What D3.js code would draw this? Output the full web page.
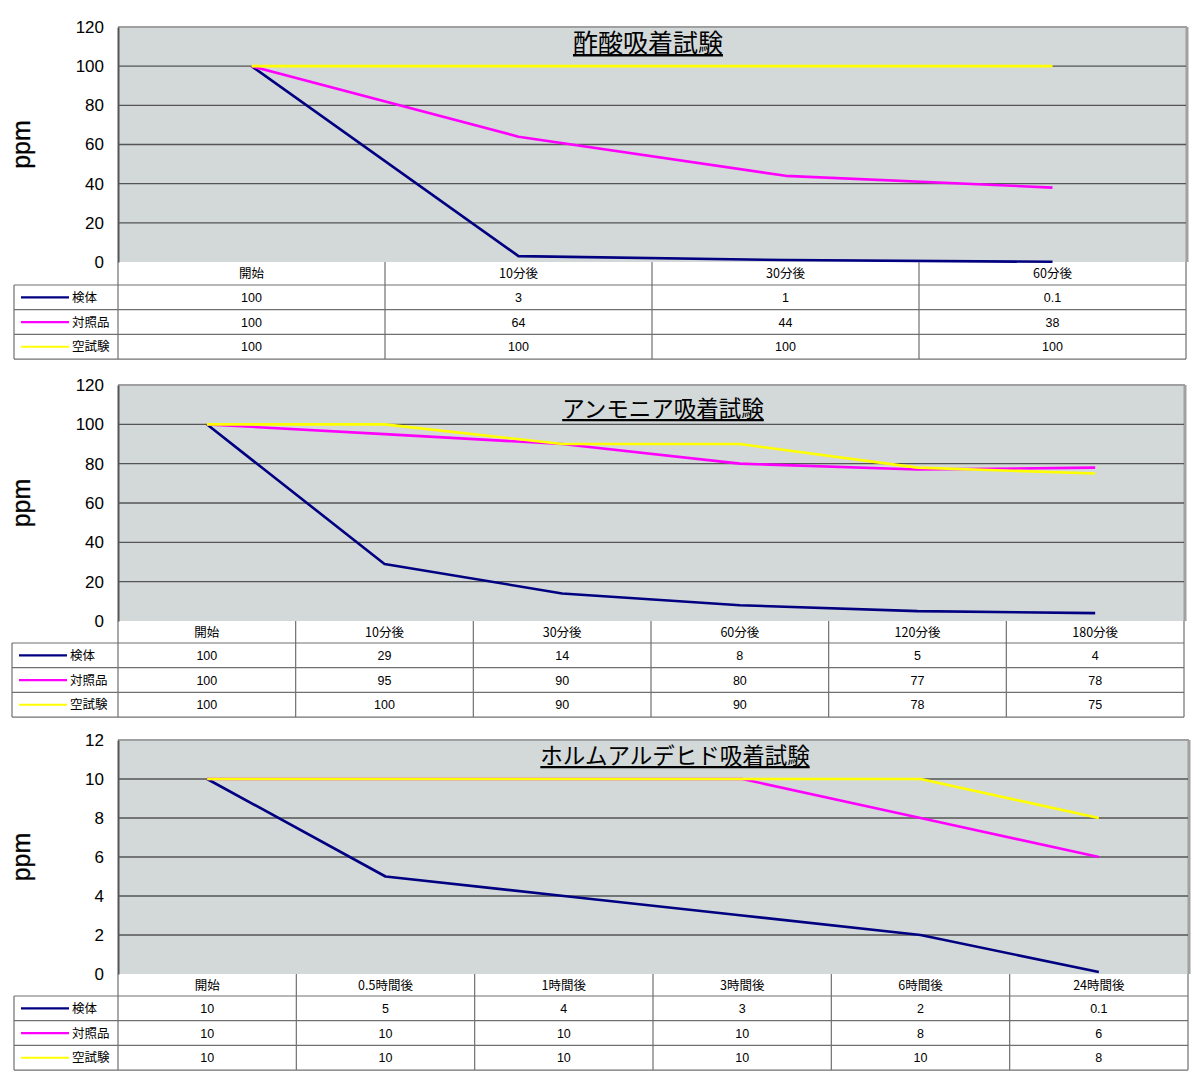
<!DOCTYPE html>
<html><head><meta charset="utf-8">
<script src="https://cdn.jsdelivr.net/npm/d3@7"></script>
<style>body{margin:0;background:#fff}svg{display:block}</style>
</head><body>
<svg id="c" width="1200" height="1080"></svg>
<script>
// ---- data ----
const seriesNames = ["検体", "対照品", "空試験"];

const aceticTitle = "酢酸吸着試験";
const aceticCategories = ["開始", "10分後", "30分後", "60分後"];
const aceticSpecimen = [100, 3, 1, 0.1];
const aceticControl = [100, 64, 44, 38];
const aceticBlank = [100, 100, 100, 100];
const aceticTicks = [0, 20, 40, 60, 80, 100, 120];

const ammoniaTitle = "アンモニア吸着試験";
const ammoniaCategories = ["開始", "10分後", "30分後", "60分後", "120分後", "180分後"];
const ammoniaSpecimen = [100, 29, 14, 8, 5, 4];
const ammoniaControl = [100, 95, 90, 80, 77, 78];
const ammoniaBlank = [100, 100, 90, 90, 78, 75];
const ammoniaTicks = [0, 20, 40, 60, 80, 100, 120];

const formTitle = "ホルムアルデヒド吸着試験";
const formCategories = ["開始", "0.5時間後", "1時間後", "3時間後", "6時間後", "24時間後"];
const formSpecimen = [10, 5, 4, 3, 2, 0.1];
const formControl = [10, 10, 10, 10, 8, 6];
const formBlank = [10, 10, 10, 10, 10, 8];
const formTicks = [0, 2, 4, 6, 8, 10, 12];

const yLabel = "ppm";

// ---- styles ----
const colors = ["#000080", "#ff00ff", "#ffff00"];
const jp = "'Noto Sans CJK JP', sans-serif";
const num = "'Liberation Sans', Arial, sans-serif";

const svg = d3.select("#c");

function drawChart(cfg) {
  const { title, cats, series, ticks, left, right, top, bottom, legendLeft, rowH, headH, titleX, titleY, titleSize } = cfg;
  const g = svg.append("g");
  const x = d3.scaleBand().domain(cats).range([left, right]);
  const y = d3.scaleLinear().domain([ticks[0], ticks[ticks.length - 1]]).range([bottom, top]);

  g.append("rect").attr("x", left).attr("y", top).attr("width", right - left).attr("height", bottom - top)
    .attr("fill", "#d3d8d8");
  g.append("line").attr("x1", left).attr("x2", right + 1).attr("y1", top).attr("y2", top)
    .attr("stroke", "#a0a0a0").attr("stroke-width", 2);
  g.append("line").attr("x1", right + 1).attr("x2", right + 1).attr("y1", top).attr("y2", bottom)
    .attr("stroke", "#a0a0a0").attr("stroke-width", 3);
  g.selectAll(".grid").data(ticks.slice(1, -1)).join("line")
    .attr("x1", left).attr("x2", right).attr("y1", d => y(d)).attr("y2", d => y(d))
    .attr("stroke", "#555").attr("stroke-width", 1.3);
  const ax = g.append("g").attr("transform", `translate(${left},0)`)
    .call(d3.axisLeft(y).tickValues(ticks).tickSize(0).tickPadding(14));
  ax.select(".domain").attr("stroke", "#555").attr("stroke-width", 2);
  ax.selectAll("text").attr("font-family", num).attr("font-size", 17).attr("fill", "#000");

  g.append("text").attr("transform", `translate(30,${(top + bottom) / 2}) rotate(-90)`)
    .attr("text-anchor", "middle").attr("font-family", num).attr("font-size", 25)
    .attr("stroke", "#000").attr("stroke-width", 0.3)
    .text(yLabel);

  g.append("text").attr("x", titleX).attr("y", titleY).attr("text-anchor", "middle")
    .attr("font-family", jp).attr("font-size", titleSize).attr("text-decoration", "underline")
    .attr("fill", "#000").text(title);

  const line = d3.line().x((d, i) => x(cats[i]) + x.bandwidth() / 2).y(d => y(d));
  series.forEach((s, k) => {
    g.append("path").datum(s.values).attr("d", line).attr("fill", "none")
      .attr("stroke", colors[k]).attr("stroke-width", 2.6).attr("stroke-linejoin", "round");
  });

  const tb = g.append("g");
  const tableBottom = bottom + headH + rowH * 3;
  const stroke = "#707070";
  cats.forEach((c) => {
    tb.append("text").attr("x", x(c) + x.bandwidth() / 2).attr("y", bottom + headH / 2 + 4.5)
      .attr("text-anchor", "middle").attr("font-family", jp).attr("font-size", 12.5).text(c);
  });
  const vx = cats.map(c => x(c)).concat([right]);
  vx.forEach(v => {
    tb.append("line").attr("x1", v).attr("x2", v).attr("y1", bottom).attr("y2", tableBottom)
      .attr("stroke", stroke).attr("stroke-width", 1.2);
  });
  tb.append("line").attr("x1", legendLeft).attr("x2", legendLeft).attr("y1", bottom + headH).attr("y2", tableBottom)
    .attr("stroke", stroke).attr("stroke-width", 1.2);
  for (let r = 0; r <= 3; r++) {
    const yy = bottom + headH + r * rowH;
    tb.append("line").attr("x1", legendLeft).attr("x2", right).attr("y1", yy).attr("y2", yy)
      .attr("stroke", stroke).attr("stroke-width", 1.2);
  }
  series.forEach((s, k) => {
    const cy = bottom + headH + k * rowH + rowH / 2;
    tb.append("line").attr("x1", legendLeft + 7).attr("x2", legendLeft + 55).attr("y1", cy).attr("y2", cy)
      .attr("stroke", colors[k]).attr("stroke-width", 2.2);
    tb.append("text").attr("x", legendLeft + 58).attr("y", cy + 4.5).attr("font-family", jp)
      .attr("font-size", 12.5).text(s.name);
    s.values.forEach((v, i) => {
      tb.append("text").attr("x", x(cats[i]) + x.bandwidth() / 2).attr("y", cy + 4.5)
        .attr("text-anchor", "middle").attr("font-family", num).attr("font-size", 12.5)
        .text(String(v));
    });
  });
}

drawChart({
  title: aceticTitle, cats: aceticCategories, ticks: aceticTicks,
  series: [
    { name: seriesNames[0], values: aceticSpecimen },
    { name: seriesNames[1], values: aceticControl },
    { name: seriesNames[2], values: aceticBlank }
  ],
  left: 118, right: 1186, top: 27, bottom: 262, legendLeft: 14, headH: 23, rowH: 24.7,
  titleX: 648, titleY: 52, titleSize: 25
});

drawChart({
  title: ammoniaTitle, cats: ammoniaCategories, ticks: ammoniaTicks,
  series: [
    { name: seriesNames[0], values: ammoniaSpecimen },
    { name: seriesNames[1], values: ammoniaControl },
    { name: seriesNames[2], values: ammoniaBlank }
  ],
  left: 118, right: 1184, top: 385, bottom: 621, legendLeft: 12, headH: 22, rowH: 24.7,
  titleX: 663, titleY: 417, titleSize: 22.5
});

drawChart({
  title: formTitle, cats: formCategories, ticks: formTicks,
  series: [
    { name: seriesNames[0], values: formSpecimen },
    { name: seriesNames[1], values: formControl },
    { name: seriesNames[2], values: formBlank }
  ],
  left: 118, right: 1188, top: 740, bottom: 974, legendLeft: 14, headH: 22, rowH: 24.7,
  titleX: 675, titleY: 764, titleSize: 22.5
});
</script>
</body></html>
